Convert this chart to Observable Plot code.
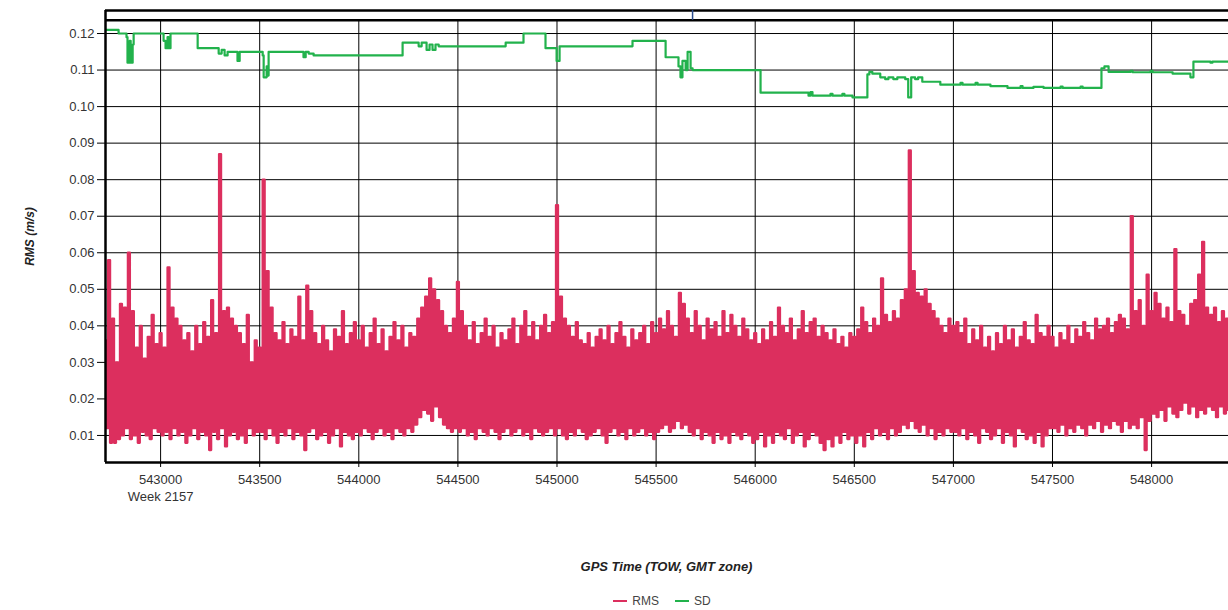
<!DOCTYPE html>
<html>
<head>
<meta charset="utf-8">
<script src="https://cdn.jsdelivr.net/npm/d3@7"></script>
<script src="https://cdn.jsdelivr.net/npm/@observablehq/plot@0.6"></script>
<style>
  body { margin: 0; background: #fff; font-family: "Liberation Sans", Arial, sans-serif; }
  #wrap { position: relative; width: 1228px; height: 610px; overflow: hidden; background: #fff; }
  #chart { position: absolute; left: 0; top: 0; }
  #xlabel { position: absolute; left: 105px; width: 1123px; top: 559px; text-align: center;
            font: italic bold 13px "Liberation Sans", Arial, sans-serif; color: #222; line-height: 16px; }
  #legend { position: absolute; left: 562px; width: 200px; top: 594px; display: flex; justify-content: center;
            align-items: center; font: 12px "Liberation Sans", Arial, sans-serif; color: #444; line-height: 14px; }
  .sw { display: inline-block; width: 14px; height: 2px; margin-right: 5px; }
  .item { display: flex; align-items: center; margin: 0 8px; }
</style>
</head>
<body>
<div id="wrap">
  <div id="chart"></div>
  <div id="xlabel">GPS Time (TOW, GMT zone)</div>
  <div id="legend"></div>
</div>
<script>
// ---- data ----
// RMS, in thousandths of m/s: one peak and one trough per 20 s bin, starting at TOW 542720
const rmsStart = 542720;
const rmsStep = 20;
const rmsHigh = [
  36,58,42,30,46,45,60,44,34,40,31,37,43,35,
  38,34,56,45,42,40,36,38,33,40,35,41,37,47,38,87,44,45,42,40,38,35,43,30,36,
  34,80,55,45,38,36,41,35,39,37,48,36,51,44,38,35,40,36,33,39,37,44,35,38,41,
  36,40,34,38,42,35,39,33,37,41,36,40,34,38,37,42,45,48,53,50,47,44,40,38,42,
  52,44,40,36,41,35,38,42,37,40,34,38,36,39,42,35,40,44,37,41,36,40,43,38,41,
  73,48,42,40,37,41,36,35,38,34,37,39,36,40,35,38,41,37,34,39,36,38,40,35,41,
  38,42,39,44,40,37,49,46,42,38,44,40,36,42,39,41,37,44,38,43,40,37,42,39,36,
  38,35,39,36,41,37,45,40,38,42,36,39,44,38,41,42,37,40,38,36,39,35,37,34,38,
  37,39,45,41,38,42,40,53,43,41,44,42,47,50,88,55,49,48,50,46,44,42,40,38,42,
  40,41,38,42,35,39,36,40,34,37,33,38,35,40,36,39,34,37,41,36,35,43,38,37,40,
  37,34,38,36,40,35,39,37,41,38,36,42,39,40,42,38,41,43,42,39,70,44,47,40,54,
  44,49,46,42,45,41,61,44,43,40,46,47,54,63,45,43,45,41,44,42
];
const rmsLow = [
  12,8,8,9,10,12,9,10,8,11,10,9,12,11,
  10,11,9,12,10,11,8,10,12,9,11,10,6,11,9,12,7,10,11,9,10,8,12,10,11,
  11,9,12,10,8,11,10,12,9,11,10,6,11,12,9,10,11,8,10,12,7,11,10,9,11,
  10,12,11,9,11,12,10,11,9,12,11,10,12,11,13,15,17,16,14,18,15,13,12,11,12,
  11,12,10,11,9,12,11,10,12,11,9,11,12,10,11,12,10,11,9,12,11,10,11,12,10,
  12,10,9,11,10,12,11,9,10,11,12,10,8,11,12,10,11,9,12,10,11,12,10,11,9,
  11,12,13,11,12,14,12,13,11,10,12,9,11,10,8,11,9,10,8,11,10,9,11,10,8,
  9,11,7,10,8,11,10,9,12,8,10,11,7,9,11,10,8,6,9,7,10,8,11,9,10,
  8,10,7,11,9,12,10,11,9,12,10,11,13,12,14,12,11,13,10,12,9,11,10,12,11,
  11,10,12,9,11,10,8,12,11,9,10,12,8,11,10,7,12,11,9,10,8,11,7,10,12,
  12,11,13,10,12,11,13,12,10,13,12,14,11,13,12,14,13,11,14,12,13,12,15,6,14,
  16,15,17,14,18,16,15,17,19,16,18,15,17,16,18,17,15,18,16,17
];

// SD step changes (TOW, m/s)
const sdTow = [542722,542788,542828,542833,542844,542849,542859,542864,543015,543025,543035,543040,543050,543187,
  543293,543308,543323,543338,543388,543399,543515,543520,543535,543540,543545,543721,543732,543747,543772,
  544221,544302,544317,544342,544357,544372,544387,544403,544741,544831,544942,544998,545013,545381,545548,
  545613,545623,545633,545649,545659,545674,545684,546027,546269,546279,546289,546380,546390,546440,546450,
  546491,546566,546576,546591,546631,546656,546672,546697,546717,546757,546772,546787,546807,546822,546843,
  546934,547036,547046,547112,547122,547187,547273,547339,547349,547404,547455,547541,547551,547642,547652,
  547747,547762,547783,547894,547904,547995,548005,548106,548196,548211,548297,548307,548388];
const sdValue = [0.121,0.120,0.119,0.112,0.118,0.112,0.117,0.120,0.118,0.116,0.119,0.116,0.120,0.116,
  0.1145,0.1155,0.114,0.115,0.1125,0.115,0.114,0.108,0.111,0.1085,0.115,0.1135,0.115,0.1145,0.114,
  0.1175,0.1165,0.1175,0.1155,0.117,0.1155,0.117,0.1165,0.1175,0.120,0.116,0.1125,0.1165,0.118,0.1135,
  0.111,0.108,0.1125,0.110,0.115,0.1105,0.110,0.1038,0.103,0.104,0.103,0.1035,0.103,0.1035,0.103,
  0.1025,0.1088,0.1095,0.109,0.108,0.1075,0.108,0.1075,0.108,0.1075,0.1025,0.108,0.1075,0.108,0.1068,
  0.106,0.1065,0.106,0.1065,0.106,0.1056,0.1051,0.1056,0.1051,0.1054,0.1051,0.1055,0.1051,0.1055,0.1051,
  0.1105,0.111,0.1095,0.1098,0.1094,0.1098,0.1094,0.109,0.108,0.1123,0.112,0.1123,0.1123];

// axes / ticks
const xTicks = [543000,543500,544000,544500,545000,545500,546000,546500,547000,547500,548000];
const yTicks = [0.01,0.02,0.03,0.04,0.05,0.06,0.07,0.08,0.09,0.10,0.11,0.12];
const weekLabel = [{tow: 543000, text: "Week 2157"}];
const markerTow = [545684];
const seriesNames = ["RMS", "SD"];
const seriesColors = ["#dc2f5e", "#22b24c"];

// scale extents
const xMin = 542722, xMax = 548388;
const yMin = 0.0026, yInnerTop = 0.1236, yOuterTop = 0.1263;

// ---- build tables ----
const rmsData = [];
rmsHigh.forEach((h, i) => {
  rmsData.push({tow: rmsStart + i * rmsStep, v: h / 1000});
  rmsData.push({tow: rmsStart + i * rmsStep + rmsStep / 2, v: rmsLow[i] / 1000});
});
const sdData = sdTow.map((t, i) => ({tow: t, v: sdValue[i]}));

const chart = Plot.plot({
  width: 1228,
  height: 520,
  marginLeft: 105,
  marginRight: 0,
  marginTop: 10,
  marginBottom: 58,
  style: {fontFamily: "Liberation Sans, Arial, sans-serif", fontSize: "13px", color: "#333", background: "#fff"},
  x: {domain: [xMin, xMax], label: null},
  y: {domain: [yMin, yOuterTop], label: null},
  marks: [
    Plot.ruleY(yTicks, {stroke: "#000", strokeWidth: 1}),
    Plot.ruleX(xTicks, {y1: yMin, y2: yInnerTop, stroke: "#000", strokeWidth: 1}),
    Plot.line(rmsData, {x: "tow", y: "v", curve: "step", stroke: seriesColors[0], strokeWidth: 2.3, clip: true}),
    Plot.line(sdData, {x: "tow", y: "v", curve: "step-after", stroke: seriesColors[1], strokeWidth: 2.2, clip: true}),
    Plot.ruleX([xMin], {y1: yMin, y2: yOuterTop, stroke: "#000", strokeWidth: 2.5}),
    Plot.ruleY([yMin, yInnerTop, yOuterTop], {stroke: "#000", strokeWidth: 2.5}),
    Plot.ruleX(markerTow, {y1: yInnerTop, y2: yOuterTop, stroke: "#2b4c8c", strokeWidth: 1.5}),
    Plot.axisX({ticks: xTicks, tickFormat: d => String(d), tickSize: 5, tickPadding: 7, label: null,
                stroke: "#000", fill: "#333", fontSize: 13}),
    Plot.axisY({ticks: yTicks, tickFormat: d3.format(".2f"), tickSize: 8, tickPadding: 3, label: null,
                stroke: "#000", fill: "#333", fontSize: 13}),
    Plot.text(weekLabel, {x: "tow", text: "text", frameAnchor: "bottom", dy: 38, fill: "#333", fontSize: 13}),
    Plot.text(["RMS (m/s)"], {frameAnchor: "left", dx: -75, rotate: -90, textAnchor: "middle", fontWeight: "bold",
                fontStyle: "italic", fill: "#222", fontSize: 12})
  ]
});
document.getElementById("chart").appendChild(chart);

const legend = document.getElementById("legend");
seriesNames.forEach((name, i) => {
  const item = document.createElement("div");
  item.className = "item";
  const sw = document.createElement("span");
  sw.className = "sw";
  sw.style.background = seriesColors[i];
  item.appendChild(sw);
  item.appendChild(document.createTextNode(name));
  legend.appendChild(item);
});
</script>
</body>
</html>
